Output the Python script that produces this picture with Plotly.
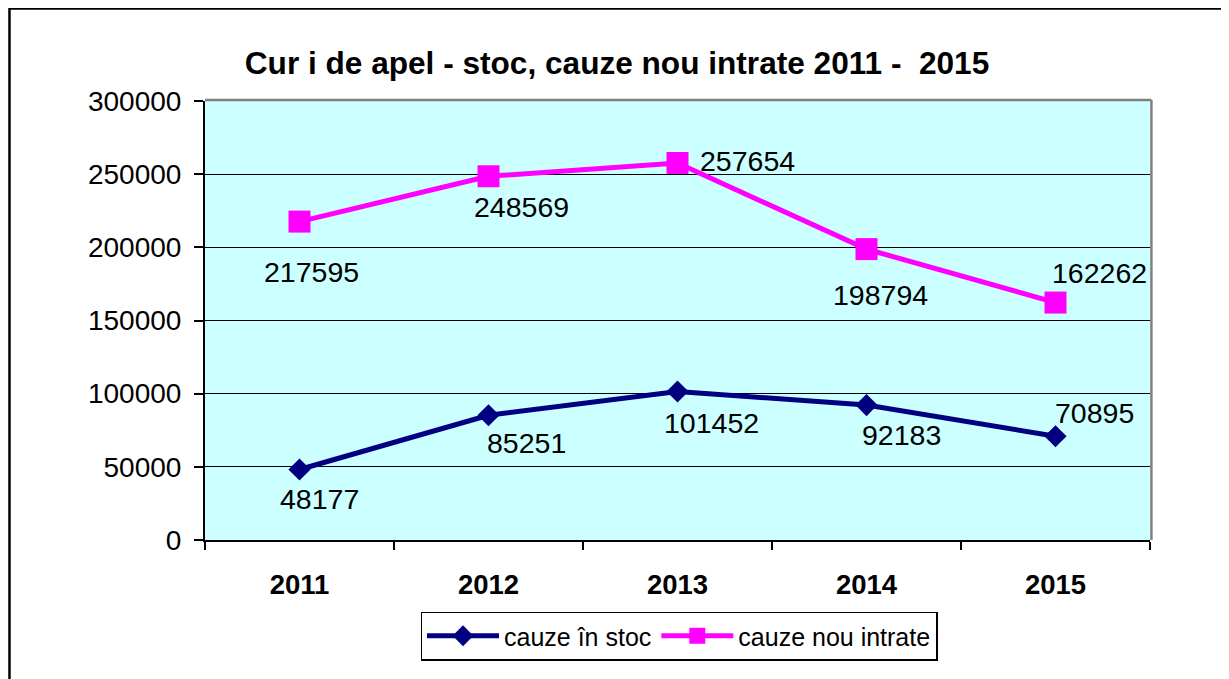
import plotly.graph_objects as go

years = ["2011", "2012", "2013", "2014", "2015"]
stoc = [48177, 85251, 101452, 92183, 70895]
nou = [217595, 248569, 257654, 198794, 162262]
y_ticks = [0, 50000, 100000, 150000, 200000, 250000, 300000]

# label offsets (pixels) relative to each point
stoc_off = [(20, -29), (38, -28), (34, -31), (35, -30), (39, 23)]
nou_off = [(12, -50), (33, -31), (70, 2), (14, -46), (44, 30)]

FONT = "Liberation Sans, Arial, sans-serif"

fig = go.Figure()
fig.add_trace(go.Scatter(
    x=years, y=stoc, name="cauze în stoc", mode="lines+markers",
    line=dict(color="#000080", width=5),
    marker=dict(symbol="diamond", size=17, color="#000080"),
))
fig.add_trace(go.Scatter(
    x=years, y=nou, name="cauze nou intrate", mode="lines+markers",
    line=dict(color="#FF00FF", width=5),
    marker=dict(symbol="square", size=22, color="#FF00FF"),
))

annotations = []
for vals, offs in ((stoc, stoc_off), (nou, nou_off)):
    for i, (v, (dx, dy)) in enumerate(zip(vals, offs)):
        annotations.append(dict(
            x=i, y=v, xref="x", yref="y", text=str(v), showarrow=False,
            xshift=dx, yshift=dy, font=dict(family=FONT, size=28.5, color="black"),
        ))

shapes = [
    # outer chart border
    dict(type="rect", xref="paper", yref="paper", x0=-0.2069, x1=1.0788,
         y0=-0.40, y1=1.2107, line=dict(color="black", width=2.5), layer="below"),
    # plot area top/right gray border
    dict(type="line", xref="paper", yref="paper", x0=0, x1=1.0015, y0=1.002, y1=1.002,
         line=dict(color="#808080", width=2.5)),
    dict(type="line", xref="paper", yref="paper", x0=1.0015, x1=1.0015, y0=0, y1=1.002,
         line=dict(color="#808080", width=2.5)),
]

fig.update_layout(
    width=1221, height=671,
    margin=dict(l=197, r=79, t=93, b=139),
    paper_bgcolor="white", plot_bgcolor="#CCFFFF",
    font=dict(family=FONT, size=26, color="black"),
    title=dict(text="<b>Cur i de apel - stoc, cauze nou intrate 2011 -  2015</b>",
               x=0.4988, xanchor="center", y=0.918, yanchor="middle",
               font=dict(family=FONT, size=31.6, color="black")),
    showlegend=True,
    legend=dict(orientation="h", x=0.5016, xanchor="center", y=-0.2187, yanchor="middle",
                bordercolor="black", borderwidth=1.5, bgcolor="white",
                font=dict(family=FONT, size=25), itemwidth=72),
    annotations=annotations,
    shapes=shapes,
    xaxis=dict(type="category", range=[-0.5, 4.5], tickson="boundaries",
               ticks="outside", ticklen=8, tickwidth=2, tickcolor="black",
               showline=True, linecolor="black", linewidth=2, showgrid=False,
               tickfont=dict(family=FONT, size=27.5, color="black"),
               tickprefix="<b>", ticksuffix="</b>", ticklabelstandoff=19,
               fixedrange=True),
    yaxis=dict(range=[0, 300000], tickvals=y_ticks, ticktext=[str(t) for t in y_ticks],
               ticks="outside", ticklen=9, tickwidth=2, tickcolor="black",
               showline=True, linecolor="black", linewidth=2,
               showgrid=True, gridcolor="black", gridwidth=1.2, zeroline=False,
               tickfont=dict(family=FONT, size=28, color="black"),
               ticklabelstandoff=7, fixedrange=True),
)

fig.write_html("out.html")
